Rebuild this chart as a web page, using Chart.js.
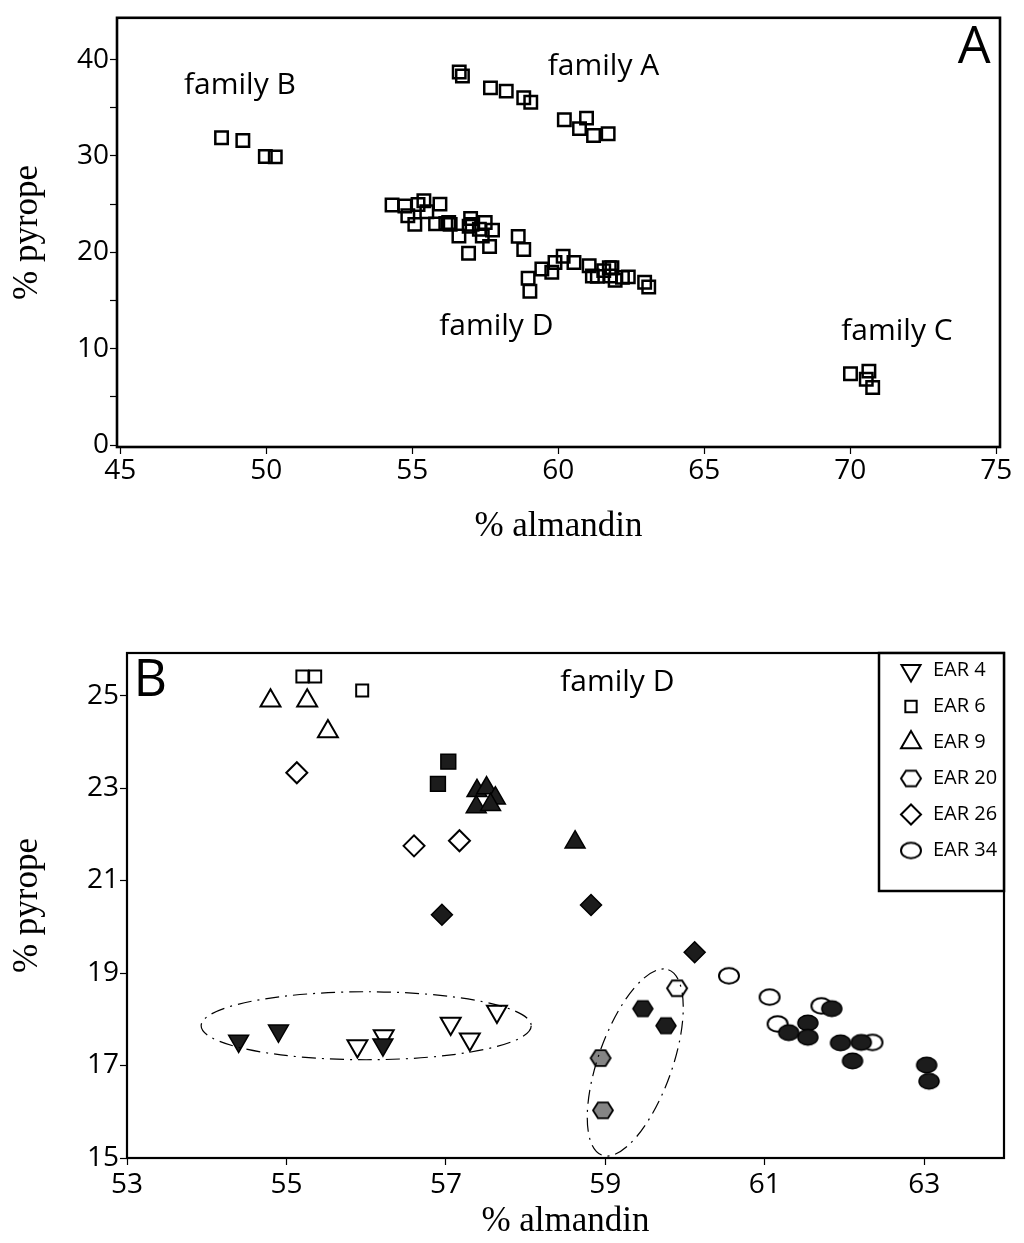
<!DOCTYPE html>
<html>
<head>
<meta charset="utf-8">
<title>Garnet composition</title>
<script src="https://cdn.jsdelivr.net/npm/chart.js"></script>
<style>
  html, body { margin: 0; padding: 0; background: #fff; }
  #wrap { position: relative; width: 1024px; height: 1243px; }
  #chartA { position: absolute; left: 0; top: 0; }
  #chartB { position: absolute; left: 0; top: 600px; }
</style>
</head>
<body>
<div id="wrap">
  <canvas id="chartA" width="1024" height="560"></canvas>
  <canvas id="chartB" width="1024" height="643"></canvas>
</div>
<script>
// ── Panel A: the four garnet families ────────────────────────────────────────
const famA_x = [56.61, 56.72, 57.68, 58.22, 58.82, 59.06, 60.21, 60.97, 60.73, 61.21, 61.71];
const famA_y = [38.7, 38.3, 37.06, 36.72, 36.04, 35.56, 33.75, 33.92, 32.83, 32.12, 32.29];
const famB_x = [48.47, 49.2, 49.97, 50.31];
const famB_y = [31.88, 31.6, 29.93, 29.9];
const famC_x = [70.01, 70.64, 70.55, 70.77];
const famC_y = [7.4, 7.67, 6.82, 5.97];
const famD_x = [54.31, 54.75, 54.85, 55.09, 55.2, 55.4, 55.5, 55.95, 55.8, 56.15,
                56.3, 56.25, 56.6, 57.0, 56.95, 56.93, 57.05, 57.3, 57.4, 57.5,
                57.65, 57.75, 58.63, 58.82, 58.97, 59.03, 59.44, 59.78, 59.89, 60.17,
                60.54, 61.06, 61.17, 61.34, 61.56, 61.75, 61.84, 61.95, 61.79, 62.2,
                62.4, 62.96, 63.1];
const famD_y = [24.9, 24.8, 23.8, 22.9, 24.95, 25.35, 24.2, 25.0, 22.95, 23.0,
                22.9, 23.1, 21.7, 23.5, 22.7, 19.9, 22.9, 22.4, 21.7, 23.1,
                20.6, 22.3, 21.65, 20.3, 17.3, 15.95, 18.27, 17.93, 18.95, 19.6,
                18.95, 18.6, 17.55, 17.5, 18.1, 18.4, 18.4, 17.1, 17.55, 17.4,
                17.45, 16.9, 16.4];
const xTicksA = [45, 50, 55, 60, 65, 70, 75];
const yTicksA = [0, 5, 10, 15, 20, 25, 30, 35, 40];

// ── Panel B: family D by sample (open / filled / grey symbols) ───────────────
const ear4Open_x = [55.89, 56.22, 57.06, 57.3, 57.64];
const ear4Open_y = [17.42, 17.64, 17.91, 17.57, 18.17];
const ear4Fill_x = [54.4, 54.9, 56.21];
const ear4Fill_y = [17.53, 17.75, 17.45];
const ear6Open_x = [55.2, 55.36, 55.95];
const ear6Open_y = [25.41, 25.41, 25.11];
const ear6Fill_x = [56.9, 57.03];
const ear6Fill_y = [23.09, 23.57];
const ear9Open_x = [54.8, 55.26, 55.52];
const ear9Open_y = [24.89, 24.89, 24.22];
const ear9Fill_x = [57.39, 57.51, 57.62, 57.38, 57.56, 58.62];
const ear9Fill_y = [22.94, 23.0, 22.78, 22.59, 22.64, 21.83];
const ear20Open_x = [59.9];
const ear20Open_y = [18.67];
const ear20Fill_x = [59.47, 59.76];
const ear20Fill_y = [18.23, 17.86];
const ear20Grey_x = [58.94, 58.97];
const ear20Grey_y = [17.16, 16.03];
const ear26Open_x = [55.13, 56.6, 57.17];
const ear26Open_y = [23.33, 21.75, 21.86];
const ear26Fill_x = [56.95, 58.82, 60.12];
const ear26Fill_y = [20.26, 20.47, 19.45];
const ear34Open_x = [60.55, 61.06, 61.71, 61.16, 62.35];
const ear34Open_y = [18.94, 18.48, 18.29, 17.9, 17.5];
const ear34Fill_x = [61.84, 61.54, 61.3, 61.54, 61.95, 62.21, 62.1, 63.03, 63.06];
const ear34Fill_y = [18.23, 17.92, 17.71, 17.61, 17.49, 17.5, 17.1, 17.01, 16.66];
const xTicksB = [53, 55, 57, 59, 61, 63];
const yTicksB = [15, 17, 19, 21, 23, 25];
const keyLabels = ["EAR 4", "EAR 6", "EAR 9", "EAR 20", "EAR 26", "EAR 34"];

const pts = (xs, ys) => xs.map((x, i) => ({ x, y: ys[i] }));

// fonts
const SANS = "'Open Sans', 'Noto Sans', sans-serif";
const NARROW = "'Liberation Sans Narrow', 'Open Sans', sans-serif";
const SERIF = "'Liberation Serif', 'DejaVu Serif', serif";
const INK = "#000";
const DARK = "#1c1c1c";

// ── small custom markers: hexagon and flattened circle ──────────────────────
function marker(path, w, h, fill, lw) {
  const c = document.createElement("canvas");
  c.width = w; c.height = h;
  const g = c.getContext("2d");
  g.fillStyle = fill; g.strokeStyle = INK; g.lineWidth = lw;
  path(g, w / 2, h / 2);
  g.fill(); g.stroke();
  return c;
}
const hexPath = (g, cx, cy) => {
  g.beginPath();
  for (let k = 0; k < 6; k++) {
    const t = k * Math.PI / 3;
    g.lineTo(cx + 10 * Math.cos(t), cy + 9 * Math.sin(t));
  }
  g.closePath();
};
const ovalPath = (g, cx, cy) => {
  g.beginPath();
  g.ellipse(cx, cy, 10, 7.8, 0, 0, 2 * Math.PI);
};
const hexOpen = marker(hexPath, 26, 24, "#fff", 2);
const hexFill = marker(hexPath, 26, 24, DARK, 1.5);
const hexGrey = marker(hexPath, 26, 24, "#858585", 1.8);
const ovalOpen = marker(ovalPath, 26, 22, "#fff", 2);
const ovalFill = marker(ovalPath, 26, 22, DARK, 1.5);

// ── plugins: frame, text notes, dash-dot rings, symbol key ──────────────────
const framePlugin = {
  id: "frame",
  afterDraw(chart, args, opts) {
    const { ctx, chartArea: a } = chart;
    ctx.save();
    ctx.lineWidth = opts.width;
    ctx.strokeStyle = INK;
    ctx.strokeRect(a.left, a.top, a.right - a.left, a.bottom - a.top);
    ctx.restore();
  }
};

const notesPlugin = {
  id: "notes",
  afterDatasetsDraw(chart, args, opts) {
    const { ctx, scales: { x, y } } = chart;
    ctx.save();
    ctx.fillStyle = INK;
    ctx.textBaseline = "alphabetic";
    for (const n of opts.items) {
      ctx.font = n.font;
      ctx.textAlign = n.align || "center";
      ctx.fillText(n.text, x.getPixelForValue(n.x), y.getPixelForValue(n.y));
    }
    ctx.restore();
  }
};

const ringsPlugin = {
  id: "rings",
  afterDatasetsDraw(chart, args, opts) {
    const { ctx, scales: { x, y } } = chart;
    ctx.save();
    ctx.strokeStyle = INK;
    ctx.lineWidth = 1.2;
    ctx.setLineDash([14, 6, 2, 6]);
    for (const r of opts.items) {
      const cx = x.getPixelForValue(r.cx), cy = y.getPixelForValue(r.cy);
      const ex = x.getPixelForValue(r.ax), ey = y.getPixelForValue(r.ay);
      const major = Math.hypot(ex - cx, ey - cy);
      ctx.beginPath();
      ctx.ellipse(cx, cy, major, major * r.ratio, Math.atan2(ey - cy, ex - cx), 0, 2 * Math.PI);
      ctx.stroke();
    }
    ctx.restore();
  }
};

const keyPlugin = {
  id: "key",
  afterDraw(chart, args, opts) {
    const { ctx, chartArea: a } = chart;
    const left = a.right - opts.width, top = a.top;
    ctx.save();
    ctx.fillStyle = "#fff";
    ctx.fillRect(left, top, opts.width, opts.height);
    ctx.lineWidth = 2.5;
    ctx.strokeStyle = INK;
    ctx.strokeRect(left, top, opts.width, opts.height);
    opts.items.forEach((it, i) => {
      const yy = top + opts.first + i * opts.step;
      ctx.fillStyle = "#fff";
      ctx.strokeStyle = INK;
      ctx.lineWidth = 2;
      Chart.helpers.drawPoint(ctx, {
        pointStyle: it.style, radius: it.radius, rotation: it.rotation || 0, borderWidth: 2
      }, left + opts.symX, yy);
      ctx.fillStyle = INK;
      ctx.font = opts.font;
      ctx.textAlign = "left";
      ctx.textBaseline = "middle";
      ctx.fillText(keyLabels[i], left + opts.textX, yy);
    });
    ctx.restore();
  }
};

// ── shared axis builders ────────────────────────────────────────────────────
function xAxis(ticks, min, max, height, titlePad, tickFont, tickPad) {
  return {
    type: "linear", min, max,
    afterBuildTicks: (s) => { s.ticks = ticks.map((v) => ({ value: v })); },
    afterFit: (s) => { s.height = height; },
    grid: { drawOnChartArea: false, drawTicks: true, tickLength: 7, tickColor: INK, tickWidth: 1.2 },
    border: { display: false },
    ticks: { color: INK, font: tickFont, padding: tickPad, maxRotation: 0, autoSkip: false, callback: (v) => String(v) },
    title: {
      display: true, text: "% almandin", color: INK,
      font: { family: SERIF, size: 35 }, padding: { top: 0, bottom: titlePad }
    }
  };
}
function yAxis(ticks, min, max, width, tickFont, label) {
  return {
    type: "linear", min, max,
    afterBuildTicks: (s) => { s.ticks = ticks.map((v) => ({ value: v })); },
    afterFit: (s) => { s.width = width; },
    grid: { drawOnChartArea: false, drawTicks: true, tickLength: 7, tickColor: INK, tickWidth: 1.2 },
    border: { display: false },
    ticks: { color: INK, font: tickFont, padding: 1, autoSkip: false, callback: label },
    title: {
      display: true, text: "% pyrope", color: INK,
      font: { family: SERIF, size: 35 }, padding: { top: 7, bottom: 0 }
    }
  };
}

const squareA = {
  pointStyle: "rect", pointRadius: 8.8, pointBorderWidth: 2.5,
  pointBorderColor: INK, pointBackgroundColor: "rgba(0,0,0,0)", showLine: false
};

new Chart(document.getElementById("chartA"), {
  type: "scatter",
  data: {
    datasets: [
      { label: "family A", data: pts(famA_x, famA_y), ...squareA },
      { label: "family B", data: pts(famB_x, famB_y), ...squareA },
      { label: "family C", data: pts(famC_x, famC_y), ...squareA },
      { label: "family D", data: pts(famD_x, famD_y), ...squareA }
    ]
  },
  options: {
    responsive: false,
    animation: false,
    events: [],
    layout: { padding: { left: 0, right: 24, top: 12, bottom: 0 } },
    scales: {
      x: xAxis(xTicksA, 44.89, 75.13, 113, 12, { family: SANS, size: 28 }, 0),
      y: yAxis(yTicksA, -0.2, 44.33, 117, { family: SANS, size: 28 }, (v) => (v % 10 === 0 ? String(v) : ""))
    },
    plugins: {
      legend: { display: false },
      tooltip: { enabled: false },
      frame: { width: 2.6 },
      notes: {
        items: [
          { text: "family A", x: 61.55, y: 38.4, font: `30px ${SANS}` },
          { text: "family B", x: 49.1, y: 36.4, font: `30px ${SANS}` },
          { text: "family C", x: 71.6, y: 10.9, font: `30px ${SANS}` },
          { text: "family D", x: 57.88, y: 11.46, font: `30px ${SANS}` },
          { text: "A", x: 74.25, y: 39.6, font: `52px ${SANS}` }
        ]
      }
    }
  },
  plugins: [framePlugin, notesPlugin]
});

// open symbols get a white face; filled ones are near-black
const openMark = (style, r, rot) => ({
  pointStyle: style, pointRadius: r, pointRotation: rot || 0, pointBorderWidth: 2,
  pointBorderColor: INK, pointBackgroundColor: "#fff", showLine: false
});
const fillMark = (style, r, rot) => ({
  pointStyle: style, pointRadius: r, pointRotation: rot || 0, pointBorderWidth: 1.5,
  pointBorderColor: INK, pointBackgroundColor: DARK, showLine: false
});

new Chart(document.getElementById("chartB"), {
  type: "scatter",
  data: {
    // earlier datasets are painted last, so the filled symbols sit on top
    datasets: [
      { label: "EAR 4 filled", data: pts(ear4Fill_x, ear4Fill_y), ...fillMark("triangle", 11.5, 180) },
      { label: "EAR 6 filled", data: pts(ear6Fill_x, ear6Fill_y), ...fillMark("rect", 10.5) },
      { label: "EAR 9 filled", data: pts(ear9Fill_x, ear9Fill_y), ...fillMark("triangle", 11.5) },
      { label: "EAR 20 filled", data: pts(ear20Fill_x, ear20Fill_y), ...fillMark(hexFill, 10) },
      { label: "EAR 20 grey", data: pts(ear20Grey_x, ear20Grey_y), ...fillMark(hexGrey, 10) },
      { label: "EAR 26 filled", data: pts(ear26Fill_x, ear26Fill_y), ...fillMark("rectRot", 10.5) },
      { label: "EAR 34 filled", data: pts(ear34Fill_x, ear34Fill_y), ...fillMark(ovalFill, 10) },
      { label: "EAR 4", data: pts(ear4Open_x, ear4Open_y), ...openMark("triangle", 11.5, 180) },
      { label: "EAR 6", data: pts(ear6Open_x, ear6Open_y), ...openMark("rect", 8.5) },
      { label: "EAR 9", data: pts(ear9Open_x, ear9Open_y), ...openMark("triangle", 11.5) },
      { label: "EAR 20", data: pts(ear20Open_x, ear20Open_y), ...openMark(hexOpen, 10) },
      { label: "EAR 26", data: pts(ear26Open_x, ear26Open_y), ...openMark("rectRot", 10.5) },
      { label: "EAR 34", data: pts(ear34Open_x, ear34Open_y), ...openMark(ovalOpen, 10) }
    ]
  },
  options: {
    responsive: false,
    animation: false,
    events: [],
    layout: { padding: { left: 0, right: 20, top: 53, bottom: 0 } },
    scales: {
      x: xAxis(xTicksB, 53, 64, 85, 0, { family: NARROW, size: 28 }, 3),
      y: yAxis(yTicksB, 15, 25.92, 127, { family: NARROW, size: 28 }, (v) => String(v))
    },
    plugins: {
      legend: { display: false },
      tooltip: { enabled: false },
      frame: { width: 2.2 },
      notes: {
        items: [
          { text: "family D", x: 59.15, y: 25.1, font: `30px ${SANS}` },
          { text: "B", x: 53.08, y: 25.0, font: `52px ${SANS}`, align: "left" }
        ]
      },
      rings: {
        items: [
          { cx: 56.0, cy: 17.86, ax: 58.07, ay: 17.86, ratio: 0.206 },
          { cx: 59.375, cy: 17.065, ax: 59.79, ay: 19.07, ratio: 0.375 }
        ]
      },
      key: {
        width: 125, height: 238, first: 17.5, step: 36, symX: 32, textX: 54,
        font: `20px ${SANS}`,
        items: [
          { style: "triangle", radius: 11, rotation: 180 },
          { style: "rect", radius: 8 },
          { style: "triangle", radius: 11.5 },
          { style: hexOpen, radius: 10 },
          { style: "rectRot", radius: 10 },
          { style: ovalOpen, radius: 10 }
        ]
      }
    }
  },
  plugins: [framePlugin, notesPlugin, ringsPlugin, keyPlugin]
});
</script>
</body>
</html>
